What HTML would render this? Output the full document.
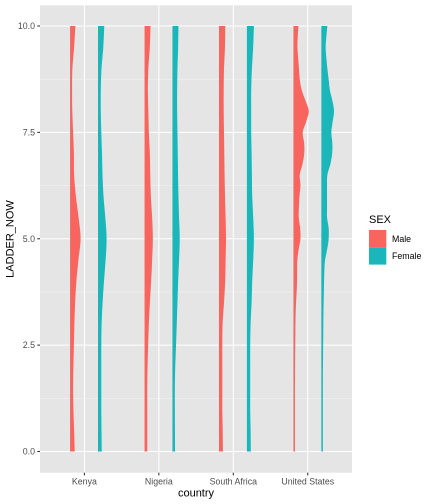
<!DOCTYPE html>
<html>
<head>
<meta charset="utf-8">
<style>
html,body{margin:0;padding:0;background:#fff;}
svg{display:block;font-family:"Liberation Sans",sans-serif;}
</style>
</head>
<body>
<svg id="chart" width="432" height="504" viewBox="0 0 432 504" xmlns="http://www.w3.org/2000/svg">
<rect x="0" y="0" width="432" height="504" fill="#fff"/>
<g id="panel"></g>
<g id="axes"></g>
<text x="196" y="496.5" font-size="11" text-anchor="middle" fill="#000">country</text>
<text transform="translate(13.5,239) rotate(-90)" font-size="11" text-anchor="middle" fill="#000">LADDER_NOW</text>
<g>
<text x="369" y="223" font-size="11" fill="#000">SEX</text>
<rect x="369" y="230" width="17.3" height="17.3" fill="#F8655F"/>
<rect x="369" y="247.3" width="17.3" height="17.3" fill="#1AB6BA"/>
<text x="392" y="241.8" font-size="8.8" fill="#000">Male</text>
<text x="392" y="259.1" font-size="8.8" fill="#000">Female</text>
</g>
</svg>
<script>
const categories = ["Kenya", "Nigeria", "South Africa", "United States"];
const yTicks = [0, 2.5, 5, 7.5, 10];
const yTickLabels = ["0.0", "2.5", "5.0", "7.5", "10.0"];
const yMinorTicks = [1.25, 3.75, 6.25, 8.75];
const coarseLevels = [10, 9.5, 9, 8.5, 8, 7.5, 7, 6.5, 6, 5.5, 5, 4.5, 4, 3.5, 3, 2.5, 2, 1.5, 1, 0.5, 0];
const fineLevels = [10, 9.75, 9.5, 9.25, 9, 8.75, 8.5, 8.25, 8, 7.75, 7.5, 7.25, 7, 6.75, 6.5, 6.25, 6, 5.75, 5.5, 5.25, 5, 4.75, 4.5, 4.25, 4, 3.75, 3.5, 3.25, 3, 2.75, 2.5, 2.25, 2, 1.75, 1.5, 1.25, 1, 0.75, 0.5, 0.25, 0];
const kenyaMale = [0.53, 0.40, 0.23, 0.20, 0.22, 0.30, 0.38, 0.40, 0.58, 0.85, 1.05, 0.83, 0.63, 0.50, 0.43, 0.38, 0.33, 0.30, 0.33, 0.40, 0.47];
const kenyaFemale = [0.63, 0.53, 0.35, 0.28, 0.28, 0.33, 0.40, 0.45, 0.55, 0.73, 0.86, 0.76, 0.60, 0.46, 0.36, 0.33, 0.33, 0.33, 0.33, 0.35, 0.38];
const nigeriaMale = [0.60, 0.53, 0.38, 0.33, 0.38, 0.43, 0.53, 0.57, 0.63, 0.76, 0.83, 0.76, 0.66, 0.53, 0.43, 0.36, 0.30, 0.27, 0.27, 0.27, 0.27];
const nigeriaFemale = [0.60, 0.57, 0.50, 0.47, 0.47, 0.50, 0.53, 0.56, 0.60, 0.66, 0.73, 0.66, 0.57, 0.50, 0.43, 0.36, 0.28, 0.24, 0.24, 0.25, 0.27];
const southAfricaMale = [0.63, 0.60, 0.50, 0.47, 0.47, 0.50, 0.53, 0.56, 0.60, 0.66, 0.70, 0.66, 0.62, 0.50, 0.36, 0.33, 0.33, 0.33, 0.33, 0.37, 0.40];
const southAfricaFemale = [0.70, 0.63, 0.50, 0.43, 0.43, 0.43, 0.47, 0.50, 0.53, 0.63, 0.70, 0.63, 0.53, 0.47, 0.37, 0.33, 0.33, 0.33, 0.33, 0.37, 0.40];
const unitedStatesMale = [0.50, 0.43, 0.40, 0.47, 0.55, 0.63, 0.82, 1.20, 1.53, 1.27, 0.93, 1.07, 1.08, 0.90, 0.63, 0.70, 0.60, 0.55, 0.53, 0.67, 0.70, 0.52, 0.39, 0.37, 0.36, 0.32, 0.26, 0.22, 0.20, 0.19, 0.18, 0.17, 0.16, 0.16, 0.15, 0.15, 0.15, 0.15, 0.15, 0.15, 0.15];
const unitedStatesFemale = [0.60, 0.50, 0.43, 0.50, 0.60, 0.73, 0.85, 1.10, 1.27, 1.13, 1.00, 1.10, 1.08, 0.90, 0.60, 0.57, 0.57, 0.57, 0.57, 0.73, 0.73, 0.58, 0.37, 0.30, 0.27, 0.25, 0.23, 0.21, 0.20, 0.19, 0.18, 0.17, 0.16, 0.15, 0.15, 0.15, 0.15, 0.15, 0.15, 0.15, 0.15];

const NS = "http://www.w3.org/2000/svg";
const panelG = document.getElementById("panel");
const axesG = document.getElementById("axes");
const PL = 40, PR = 352, PT = 5.3, PB = 472.7;

function yScale(v) { return 451.5 - v * 42.55; }
function xScale(i) { return 84.4 + i * 74.45; }
function widthScale(d) { return d * 10; }
function shape(tag, attrs, parent, text) {
  const el = document.createElementNS(NS, tag);
  for (const k in attrs) el.setAttribute(k, attrs[k]);
  if (text !== undefined) el.textContent = text;
  parent.appendChild(el);
  return el;
}

const bg = shape("rect", {x: PL, y: PT, width: PR - PL, height: PB - PT, fill: "#E5E5E5"}, panelG);



yMinorTicks.forEach(function (v) {
  const l = shape("line", {x1: PL, x2: PR, y1: yScale(v), y2: yScale(v), stroke: "#F2F2F2", "stroke-width": 0.6}, panelG);
  
  
});
yTicks.forEach(function (v, i) {
  const l = shape("line", {x1: PL, x2: PR, y1: yScale(v), y2: yScale(v), stroke: "#fff", "stroke-width": 1.07}, panelG);
  
  
  const t = shape("line", {x1: PL - 2.7, x2: PL, y1: yScale(v), y2: yScale(v), stroke: "#333", "stroke-width": 1.07}, axesG);
  
  
  const lab = shape("text", {x: PL - 5, y: yScale(v) + 3.1, "font-size": 8.8, "text-anchor": "end", fill: "#4D4D4D"}, axesG, yTickLabels[i]);
  
  
});
categories.forEach(function (c, i) {
  const l = shape("line", {x1: xScale(i), x2: xScale(i), y1: PT, y2: PB, stroke: "#fff", "stroke-width": 1.07}, panelG);
  
  
  const t = shape("line", {x1: xScale(i), x2: xScale(i), y1: PB, y2: PB + 2.7, stroke: "#333", "stroke-width": 1.07}, axesG);
  
  
  const lab = shape("text", {x: xScale(i), y: 484.3, "font-size": 8.8, "text-anchor": "middle", fill: "#4D4D4D"}, axesG, c);
  
  
});

function violinPath(base, levels, dens) {
  const pts = levels.map(function (v, i) { return [base + widthScale(dens[i]), yScale(v)]; });
  let d = "M" + base + " " + pts[0][1] + "L" + pts[0][0] + " " + pts[0][1];
  for (let i = 0; i < pts.length - 1; i++) {
    const p0 = pts[Math.max(i - 1, 0)], p1 = pts[i], p2 = pts[i + 1], p3 = pts[Math.min(i + 2, pts.length - 1)];
    const c1x = p1[0] + (p2[0] - p0[0]) / 6, c1y = p1[1] + (p2[1] - p0[1]) / 6;
    const c2x = p2[0] - (p3[0] - p1[0]) / 6, c2y = p2[1] - (p3[1] - p1[1]) / 6;
    d += "C" + c1x + " " + c1y + " " + c2x + " " + c2y + " " + p2[0] + " " + p2[1];
  }
  d += "L" + base + " " + pts[pts.length - 1][1] + "Z";
  return d;
}

function drawViolin(catIndex, offset, levels, dens, color, name) {
  const p = shape("path", {d: violinPath(xScale(catIndex) + offset, levels, dens), fill: color}, panelG);
  
  
}
const maleOffset = -14.3, femaleOffset = 13.6;
const maleColor = "#F8655F", femaleColor = "#1AB6BA";
drawViolin(0, maleOffset, coarseLevels, kenyaMale, maleColor, "violin-kenya-male");
drawViolin(0, femaleOffset, coarseLevels, kenyaFemale, femaleColor, "violin-kenya-female");
drawViolin(1, maleOffset, coarseLevels, nigeriaMale, maleColor, "violin-nigeria-male");
drawViolin(1, femaleOffset, coarseLevels, nigeriaFemale, femaleColor, "violin-nigeria-female");
drawViolin(2, maleOffset, coarseLevels, southAfricaMale, maleColor, "violin-south-africa-male");
drawViolin(2, femaleOffset, coarseLevels, southAfricaFemale, femaleColor, "violin-south-africa-female");
drawViolin(3, maleOffset, fineLevels, unitedStatesMale, maleColor, "violin-united-states-male");
drawViolin(3, femaleOffset, fineLevels, unitedStatesFemale, femaleColor, "violin-united-states-female");
</script>
</body>
</html>
